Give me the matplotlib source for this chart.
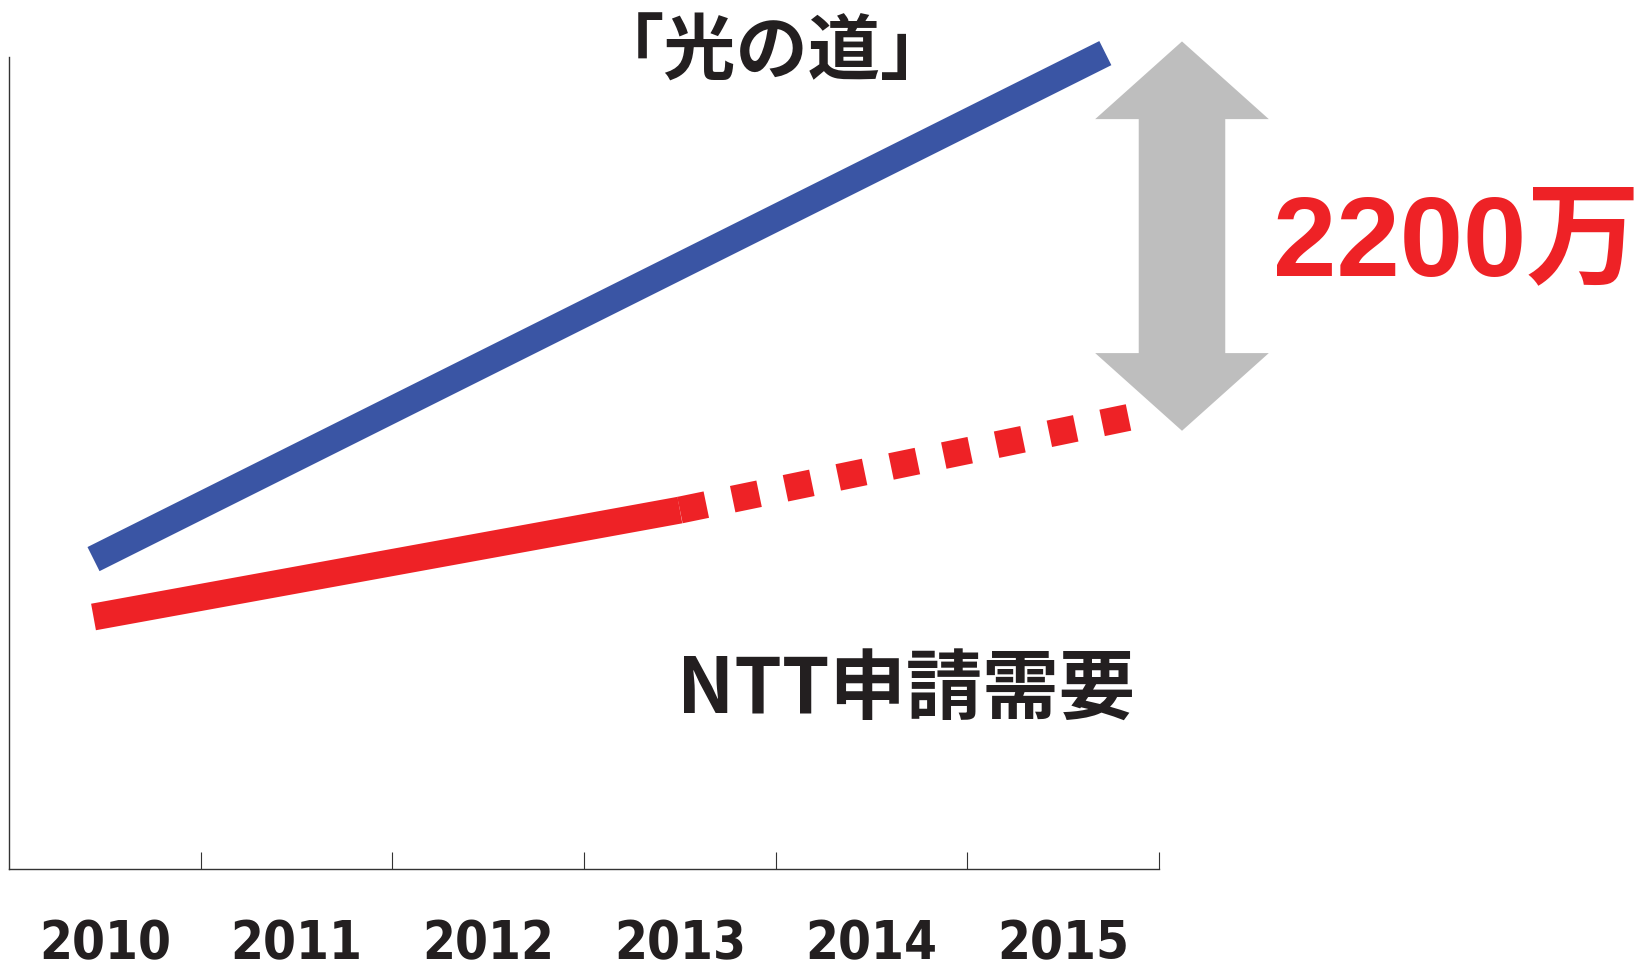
import matplotlib
matplotlib.use("Agg")
import matplotlib.pyplot as plt
from matplotlib.patches import Polygon
from matplotlib import font_manager as fm

# ---------------- data ----------------
years = [2010, 2011, 2012, 2013, 2014, 2015]
year_labels = ["2010", "2011", "2012", "2013", "2014", "2015"]

# 「光の道」 plan line (units: 万)
hikari_x = [2009.94, 2015.22]
hikari_y = [1751, 4610]

# NTT 申請需要 — actual (solid) and projected (dotted)
ntt_actual_x = [2009.94, 2013.0]
ntt_actual_y = [1424, 2028]
ntt_proj_x = [2013.0, 2015.375]
ntt_proj_y = [2028, 2559]

# gap arrow
gap_x = 2015.62
gap_top = 4676
gap_bottom = 2476
gap_label = "2200万"

title_label = "「光の道」"
ntt_label = "NTT申請需要"

# ---------------- style ----------------
BLUE = "#3A55A4"
RED = "#EE2226"
GRAY = "#BEBEBE"
INK = "#231F20"
CJK = ["Noto Sans CJK JP", "DejaVu Sans"]

# look for a condensed bold face for the year labels
cond = None
for f in fm.fontManager.ttflist:
    nm = f.name.lower()
    is_cond = ("narrow" in nm or "condensed" in nm or "cond" in f.fname.lower()
               or f.stretch in ("condensed", "semi-condensed", "extra-condensed",
                                "ultra-condensed"))
    w = f.weight if isinstance(f.weight, int) else 700 if str(f.weight) in ("bold", "heavy", "black") else 400
    if is_cond and w >= 600 and f.style == "normal":
        cond = f
        break
if cond is not None:
    tick_fp = fm.FontProperties(fname=cond.fname, size=38)
else:
    tick_fp = fm.FontProperties(family="Liberation Sans", weight="bold", size=36)

W, H = 1645, 970
fig = plt.figure(figsize=(W / 100, H / 100), dpi=100)
ax = fig.add_axes([9.2 / W, 1 - 870 / H, (1159 - 9.2) / W, (870 - 58) / H])
ax.set_xlim(2009.5, 2015.5)
ax.set_ylim(0, 4588)

for s in ("top", "right"):
    ax.spines[s].set_visible(False)
for s in ("left", "bottom"):
    ax.spines[s].set_color("#333333")
    ax.spines[s].set_linewidth(1.0)

ax.set_yticks([])
ax.set_xticks([y + 0.5 for y in years])
ax.tick_params(axis="x", which="major", direction="in", length=12.2, width=0.8,
               color="#333333", labelbottom=False)
ax.set_xticks(years, minor=True)
ax.set_xticklabels(year_labels, minor=True)
ax.tick_params(axis="x", which="minor", length=0, pad=35)
for t in ax.get_xticklabels(minor=True):
    t.set_fontproperties(tick_fp)
    t.set_color(INK)

LW = 19.4  # ~27 px
ax.plot(hikari_x, hikari_y, color=BLUE, lw=LW, solid_capstyle="butt", clip_on=False)
ax.plot(ntt_actual_x, ntt_actual_y, color=RED, lw=LW, solid_capstyle="butt", clip_on=False)
ax.plot(ntt_proj_x, ntt_proj_y, color=RED, lw=LW, dashes=(1, 1),
        dash_capstyle="butt", clip_on=False)

# double-headed gray arrow
shaft_w = 0.4515
head_w = 0.906
head_len = 439
verts = [
    (gap_x, gap_top),
    (gap_x + head_w / 2, gap_top - head_len),
    (gap_x + shaft_w / 2, gap_top - head_len),
    (gap_x + shaft_w / 2, gap_bottom + head_len),
    (gap_x + head_w / 2, gap_bottom + head_len),
    (gap_x, gap_bottom),
    (gap_x - head_w / 2, gap_bottom + head_len),
    (gap_x - shaft_w / 2, gap_bottom + head_len),
    (gap_x - shaft_w / 2, gap_top - head_len),
    (gap_x - head_w / 2, gap_top - head_len),
]
ax.add_patch(Polygon(verts, closed=True, facecolor=GRAY, edgecolor="none", clip_on=False))

fig.text(1457 / W, 1 - 246 / H, gap_label, color=RED, fontsize=82, fontweight="bold",
         family=["Liberation Sans", "Noto Sans CJK JP"], ha="center", va="center")
fig.text(772 / W, 1 - 53 / H, title_label, color=INK, fontsize=52, fontweight="bold",
         family=CJK, ha="center", va="center")
fig.text(906 / W, 1 - 690 / H, ntt_label, color=INK, fontsize=55, fontweight="bold",
         family=CJK, ha="center", va="center")

fig.savefig("out.png", dpi=100, facecolor="white")
